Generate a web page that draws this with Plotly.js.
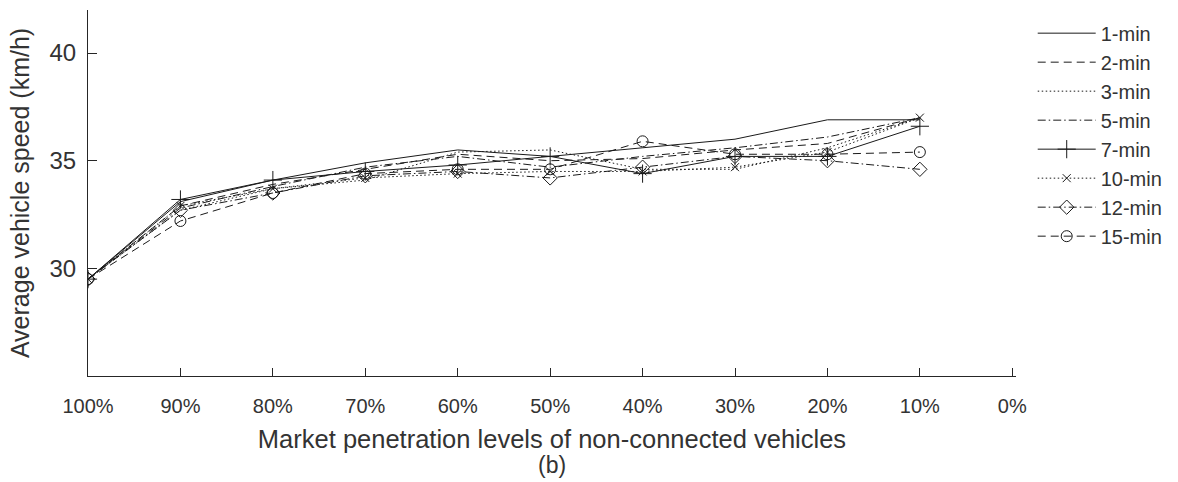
<!DOCTYPE html>
<html>
<head>
<meta charset="utf-8">
<script src="https://cdn.plot.ly/plotly-3.0.1.min.js"></script>
<style>html,body{margin:0;padding:0;background:#fff}#chart{width:1178px;height:482px}</style>
</head>
<body>
<div id="chart"></div>
<script>
var categories = ['100%','90%','80%','70%','60%','50%','40%','30%','20%','10%','0%'];
var xPoints = ['100%','90%','80%','70%','60%','50%','40%','30%','20%','10%'];
var seriesNames = ['1-min','2-min','3-min','5-min','7-min','10-min','12-min','15-min'];
var min1  = [29.5, 33.1, 34.1, 34.9, 35.5, 35.2, 35.6, 36.0, 36.9, 36.9];
var min2  = [29.5, 32.9, 33.9, 34.6, 35.3, 35.0, 35.1, 35.5, 35.8, 37.0];
var min3  = [29.5, 32.7, 33.7, 34.1, 35.4, 35.5, 34.6, 34.6, 35.6, 37.0];
var min5  = [29.5, 32.8, 33.8, 34.7, 35.2, 34.7, 35.2, 35.6, 36.1, 37.0];
var min7  = [29.5, 33.2, 34.1, 34.5, 34.8, 35.2, 34.4, 35.2, 35.2, 36.6];
var min10 = [29.5, 32.9, 33.7, 34.2, 34.4, 34.5, 34.5, 34.7, 35.4, 37.0];
var min12 = [29.5, 32.7, 33.5, 34.3, 34.5, 34.2, 34.7, 35.2, 35.0, 34.6];
var min15 = [29.5, 32.2, 33.5, 34.4, 34.6, 34.6, 35.9, 35.3, 35.3, 35.4];
var yTicks = [30, 35, 40];
var xTitle = 'Market penetration levels of non-connected vehicles';
var subLabel = '(b)';

var values = [min1, min2, min3, min5, min7, min10, min12, min15];
var dashes = ['solid', '8px,5px', '1.5px,2.5px', '8px,3px,1.5px,3px', 'solid', '1.5px,2.5px', '8px,3px,1.5px,3px', '8px,5px'];
var symbols = [null, null, null, null, 'cross-thin-open', 'x-thin-open', 'diamond-open', 'circle-open'];
var sizes = [0, 0, 0, 0, 13, 8, 11, 11];
var lineColor = '#1a1a1a';

var traces = values.map(function (v, i) {
  var t = {
    x: xPoints, y: v, name: seriesNames[i], type: 'scatter',
    mode: symbols[i] ? 'lines+markers' : 'lines',
    line: {color: lineColor, width: 1, dash: dashes[i]}
  };
  if (symbols[i]) {
    t.marker = {symbol: symbols[i], size: sizes[i], color: lineColor, line: {color: lineColor, width: 1}};
  }
  return t;
});

var txt = '#333333';
var layout = {
  width: 1178, height: 482,
  margin: {l: 88, r: 154, t: 10, b: 106},
  paper_bgcolor: '#fff', plot_bgcolor: '#fff',
  font: {family: 'Liberation Sans, Arial, sans-serif', size: 20, color: txt},
  showlegend: true,
  legend: {x: 1.018, y: 0.99, xanchor: 'left', yanchor: 'top', bgcolor: 'rgba(0,0,0,0)',
           font: {size: 20, color: txt}, itemwidth: 58, tracegroupgap: 0},
  xaxis: {
    type: 'category', categoryorder: 'array', categoryarray: categories,
    range: [0, 10.04], showgrid: false, zeroline: false,
    showline: true, linecolor: '#262626', linewidth: 1,
    ticks: 'inside', ticklen: 8, tickcolor: '#262626',
    tickfont: {size: 20, color: txt}, ticklabelstandoff: 12,
    title: {text: xTitle, font: {size: 25.5, color: txt}, standoff: 14}
  },
  yaxis: {
    range: [25, 42], tickvals: yTicks, showgrid: false, zeroline: false,
    showline: true, linecolor: '#262626', linewidth: 1,
    ticks: 'inside', ticklen: 9, tickcolor: '#262626',
    tickfont: {size: 24, color: txt}, ticklabelstandoff: 6,
    title: {text: 'Average vehicle speed (km/h)', font: {size: 25, color: txt}, standoff: 12}
  },
  annotations: [{
    text: subLabel, xref: 'paper', yref: 'paper', x: 0.5, y: -0.243,
    xanchor: 'center', yanchor: 'middle', showarrow: false,
    font: {size: 23, color: txt}
  }]
};

Plotly.newPlot('chart', traces, layout, {displayModeBar: false, staticPlot: true});
</script>
</body>
</html>
